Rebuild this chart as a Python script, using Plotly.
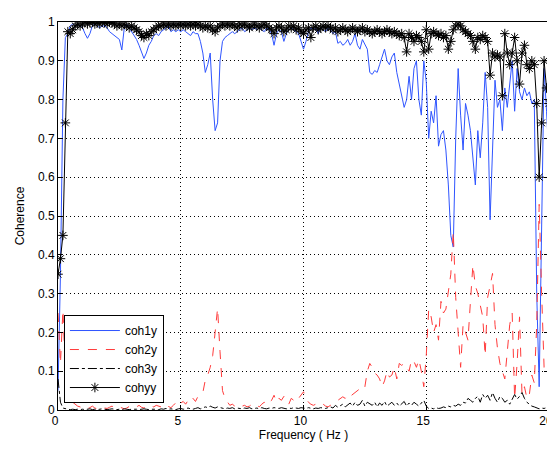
import plotly.graph_objects as go

# Frequency grid (Hz), 0.1 Hz resolution
freq = [round(i * 0.1, 1) for i in range(201)]

coh1y = [
    0.05, 0.35, 0.8, 0.96, 0.97, 0.99, 0.995, 0.99, 0.995, 0.99,
    0.985, 0.97, 0.958, 0.97, 0.99, 0.995, 0.99, 0.985, 0.99, 0.99,
    0.985, 0.975, 0.97, 0.965, 0.96, 0.955, 0.928, 0.985, 0.995, 0.985,
    0.975, 0.965, 0.955, 0.94, 0.925, 0.906, 0.92, 0.94, 0.95, 0.965,
    0.97, 0.965, 0.975, 0.98, 0.985, 0.99, 0.975, 0.98, 0.975, 0.98,
    0.975, 0.98, 0.975, 0.97, 0.965, 0.975, 0.97, 0.97, 0.95, 0.92,
    0.87, 0.89, 0.92, 0.8, 0.72, 0.74, 0.9, 0.95, 0.96, 0.965,
    0.97, 0.975, 0.97, 0.975, 0.98, 0.985, 0.975, 0.98, 0.985, 0.98,
    0.985, 0.98, 0.985, 0.98, 0.975, 0.985, 0.98, 0.97, 0.94, 0.97,
    0.98, 0.975, 0.95, 0.97, 0.98, 0.985, 0.98, 0.975, 0.97, 0.95,
    0.93, 0.95, 0.975, 0.985, 0.98, 0.985, 0.97, 0.985, 0.98, 0.975,
    0.985, 0.98, 0.97, 0.975, 0.945, 0.95, 0.94, 0.945, 0.955, 0.94,
    0.95, 0.97, 0.94, 0.93, 0.955, 0.94, 0.93, 0.87, 0.865, 0.875,
    0.87, 0.89, 0.91, 0.93, 0.9, 0.89, 0.91, 0.92, 0.87, 0.84,
    0.81, 0.78, 0.8, 0.86, 0.8, 0.88, 0.9, 0.8, 0.76, 0.9,
    0.846, 0.70, 0.77, 0.74, 0.81, 0.68, 0.71, 0.72, 0.67, 0.58,
    0.45, 0.42, 0.7, 0.88, 0.76, 0.67, 0.79, 0.76, 0.72, 0.65,
    0.58, 0.72, 0.65, 0.74, 0.87, 0.78, 0.49, 0.67, 0.85, 0.78,
    0.80, 0.72, 0.83, 0.78, 0.85, 0.90, 0.77, 0.88, 0.82, 0.80,
    0.83, 0.81, 0.82, 0.79, 0.8, 0.3, 0.06, 0.5, 0.88, 0.77,
    0.65,
]

coh2y = [
    0.25, 0.12, 0.258, 0.1, 0.05, 0.03, 0.02, 0.015, 0.01, 0.008,
    0.005, 0.008, 0.004, 0.006, 0.01, 0.005, 0.003, 0.006, 0.008, 0.005,
    0.004, 0.007, 0.01, 0.006, 0.004, 0.008, 0.006, 0.003, 0.005, 0.009,
    0.006, 0.004, 0.008, 0.012, 0.007, 0.005, 0.009, 0.006, 0.01, 0.008,
    0.012, 0.01, 0.008, 0.015, 0.012, 0.01, 0.006, 0.012, 0.02, 0.026,
    0.018, 0.022, 0.015, 0.025, 0.02, 0.03, 0.022, 0.035, 0.04, 0.045,
    0.077, 0.09, 0.11, 0.14, 0.2, 0.262, 0.15, 0.05, 0.03, 0.02,
    0.012, 0.015, 0.01, 0.013, 0.008, 0.01, 0.012, 0.008, 0.01, 0.015,
    0.01, 0.012, 0.008, 0.015, 0.02, 0.012, 0.018, 0.025, 0.038, 0.02,
    0.03, 0.025, 0.035, 0.02, 0.015, 0.03, 0.025, 0.035, 0.03, 0.04,
    0.047, 0.03, 0.02, 0.015, 0.012, 0.015, 0.01, 0.012, 0.015, 0.01,
    0.008, 0.012, 0.015, 0.02, 0.025, 0.03, 0.034, 0.03, 0.04, 0.035,
    0.04, 0.045, 0.05, 0.055, 0.05, 0.06, 0.1, 0.12, 0.11, 0.095,
    0.09, 0.08, 0.06, 0.075, 0.1, 0.085, 0.09, 0.11, 0.08, 0.12,
    0.115, 0.12, 0.11, 0.1, 0.13, 0.125, 0.11, 0.13, 0.1, 0.06,
    0.14, 0.26, 0.24, 0.2, 0.22, 0.18, 0.28, 0.25, 0.26, 0.3,
    0.35, 0.46, 0.29, 0.2, 0.11, 0.22, 0.2, 0.18, 0.28, 0.374,
    0.32, 0.3, 0.27, 0.24, 0.14, 0.29, 0.32, 0.352, 0.22, 0.16,
    0.12, 0.1, 0.08, 0.15, 0.22, 0.25, 0.03, 0.12, 0.24, 0.04,
    0.06, 0.03, 0.04, 0.09, 0.07, 0.22, 0.53, 0.3, 0.11, 0.12,
    0.1,
]

coh3y = [
    0.08, 0.02, 0.005, 0.003, 0.002, 0.001, 0.002, 0.001, 0.002, 0.001,
    0.002, 0.001, 0.002, 0.003, 0.001, 0.002, 0.001, 0.002, 0.003, 0.002,
    0.001, 0.002, 0.003, 0.002, 0.001, 0.002, 0.001, 0.003, 0.002, 0.001,
    0.002, 0.003, 0.002, 0.001, 0.002, 0.003, 0.002, 0.001, 0.002, 0.003,
    0.002, 0.001, 0.003, 0.002, 0.004, 0.002, 0.003, 0.002, 0.001, 0.003,
    0.004, 0.002, 0.003, 0.005, 0.003, 0.002, 0.004, 0.006, 0.003, 0.005,
    0.008, 0.006, 0.01, 0.007, 0.005, 0.008, 0.006, 0.004, 0.003, 0.005,
    0.004, 0.006, 0.003, 0.005, 0.004, 0.003, 0.005, 0.004, 0.006, 0.003,
    0.004, 0.005, 0.003, 0.006, 0.004, 0.003, 0.005, 0.004, 0.006, 0.005,
    0.004, 0.006, 0.005, 0.003, 0.005, 0.004, 0.006, 0.005, 0.004, 0.006,
    0.005, 0.004, 0.006, 0.005, 0.003, 0.005, 0.004, 0.006, 0.005, 0.004,
    0.006, 0.008, 0.005, 0.012, 0.007, 0.01, 0.015, 0.008, 0.012, 0.018,
    0.01, 0.02, 0.012, 0.015, 0.025, 0.01, 0.02, 0.015, 0.012, 0.02,
    0.008, 0.018, 0.012, 0.022, 0.01, 0.015, 0.02, 0.012, 0.018, 0.01,
    0.015, 0.022, 0.01, 0.018, 0.012, 0.02, 0.015, 0.01, 0.018, 0.025,
    0.01, 0.004, 0.005, 0.003, 0.006, 0.004, 0.005, 0.008, 0.006, 0.01,
    0.008, 0.012, 0.01, 0.015, 0.012, 0.02, 0.018, 0.03, 0.025, 0.02,
    0.03, 0.035, 0.02, 0.04, 0.03, 0.038, 0.025, 0.045, 0.03, 0.02,
    0.035, 0.03, 0.02, 0.025, 0.015, 0.03, 0.04, 0.028, 0.035, 0.045,
    0.03, 0.02, 0.015, 0.01, 0.008, 0.005, 0.003, 0.005, 0.004, 0.006,
    0.005,
]

cohyy = [
    0.35, 0.39, 0.45, 0.74, 0.975, 0.97, 0.98, 0.99, 0.995, 0.99,
    0.995, 1.0, 0.995, 0.998, 1.0, 0.995, 0.998, 0.995, 1.0, 0.998,
    0.995, 1.0, 0.998, 0.995, 0.99, 0.995, 0.99, 0.995, 0.99, 0.985,
    0.99, 0.985, 0.98, 0.975, 0.965, 0.96, 0.97, 0.965, 0.975, 0.98,
    0.985, 0.99, 0.99, 0.995, 0.99, 0.995, 0.99, 0.995, 0.99, 0.995,
    0.99, 0.995, 0.99, 0.995, 0.99, 0.995, 0.99, 0.995, 0.99, 0.985,
    0.99, 0.985, 0.99, 0.98, 0.975, 0.985, 0.99, 0.995, 0.99, 0.995,
    0.99, 0.995, 0.99, 0.985, 0.995, 0.99, 0.995, 0.99, 0.985, 0.99,
    0.995, 0.99, 0.985, 0.99, 0.995, 0.99, 0.985, 0.98, 0.97, 0.985,
    0.99, 0.985, 0.975, 0.98, 0.99, 0.985, 0.99, 0.98, 0.985, 0.975,
    0.97, 0.98, 0.985, 0.96, 0.985, 0.99, 0.98, 0.985, 0.99, 0.985,
    0.99, 0.985, 0.98, 0.985, 0.975, 0.98, 0.985, 0.98, 0.975, 0.98,
    0.985, 0.98, 0.975, 0.98, 0.985, 0.975, 0.98, 0.975, 0.97, 0.975,
    0.98, 0.975, 0.97, 0.975, 0.98, 0.975, 0.97, 0.975, 0.97, 0.965,
    0.97, 0.96, 0.923, 0.97, 0.96, 0.95, 0.965, 0.96, 0.95, 0.923,
    0.98, 0.93, 0.97, 0.975, 0.97, 0.965, 0.97, 0.96, 0.965, 0.93,
    0.95, 0.98, 0.99, 0.995, 0.99, 0.98, 0.975, 0.97, 0.965, 0.95,
    0.93, 0.96, 0.955, 0.965, 0.96, 0.95, 0.863, 0.92, 0.91, 0.915,
    0.91, 0.81, 0.97, 0.92, 0.89, 0.92, 0.96, 0.9, 0.84, 0.92,
    0.94, 0.89, 0.88, 0.9, 0.89, 0.79, 0.6, 0.74, 0.9, 0.83,
    0.79,
]

x_ticks = [0, 5, 10, 15, 20]
y_ticks = [0, 0.1, 0.2, 0.3, 0.4, 0.5, 0.6, 0.7, 0.8, 0.9, 1]
y_tick_labels = ["0", "0.1", "0.2", "0.3", "0.4", "0.5", "0.6", "0.7", "0.8", "0.9", "1"]

FONT = "Liberation Sans, Arial, sans-serif"

fig = go.Figure()
fig.add_trace(go.Scatter(x=freq, y=coh1y, mode="lines", name="coh1y",
                         line=dict(color="#2f55ff", width=1)))
fig.add_trace(go.Scatter(x=freq, y=coh2y, mode="lines", name="coh2y",
                         line=dict(color="#ff3b3b", width=1, dash="dash")))
fig.add_trace(go.Scatter(x=freq, y=coh3y, mode="lines", name="coh3y",
                         line=dict(color="black", width=1, dash="dashdot")))
fig.add_trace(go.Scatter(x=freq, y=cohyy, mode="lines+markers", name="cohyy",
                         line=dict(color="black", width=1),
                         marker=dict(symbol="asterisk-open", size=8,
                                     line=dict(color="black", width=1))))

axis_common = dict(
    showline=True, linecolor="black", linewidth=1, mirror="ticks",
    ticks="inside", ticklen=5, tickcolor="black",
    showgrid=True, gridcolor="black", griddash="1px,3px", gridwidth=1,
    zeroline=False, automargin=False, ticklabeloverflow="allow",
    tickfont=dict(family=FONT, size=12, color="black"),
)

fig.update_xaxes(range=[0, 20], tickvals=x_ticks, ticklabelshift=-3,
                 title=dict(text="Frequency ( Hz )", font=dict(family=FONT, size=12, color="black"),
                            standoff=4),
                 **axis_common)
fig.update_yaxes(range=[0, 1], tickvals=y_ticks, ticktext=y_tick_labels,
                 title=dict(text="Coherence", font=dict(family=FONT, size=12, color="black"),
                            standoff=10),
                 **axis_common)

# The page adds an 8px body margin, so the figure is sized to fit the 555x450 window
fig.update_layout(
    width=547, height=434,
    margin=dict(l=50, r=6, t=14, b=32),
    paper_bgcolor="white", plot_bgcolor="white",
    font=dict(family=FONT, size=12, color="black"),
    legend=dict(x=0.012, y=0.018, xanchor="left", yanchor="bottom",
                bgcolor="white", bordercolor="black", borderwidth=1,
                font=dict(family=FONT, size=12, color="black"),
                itemwidth=50, tracegroupgap=0),
    showlegend=True,
)

fig.write_html("out.html")
